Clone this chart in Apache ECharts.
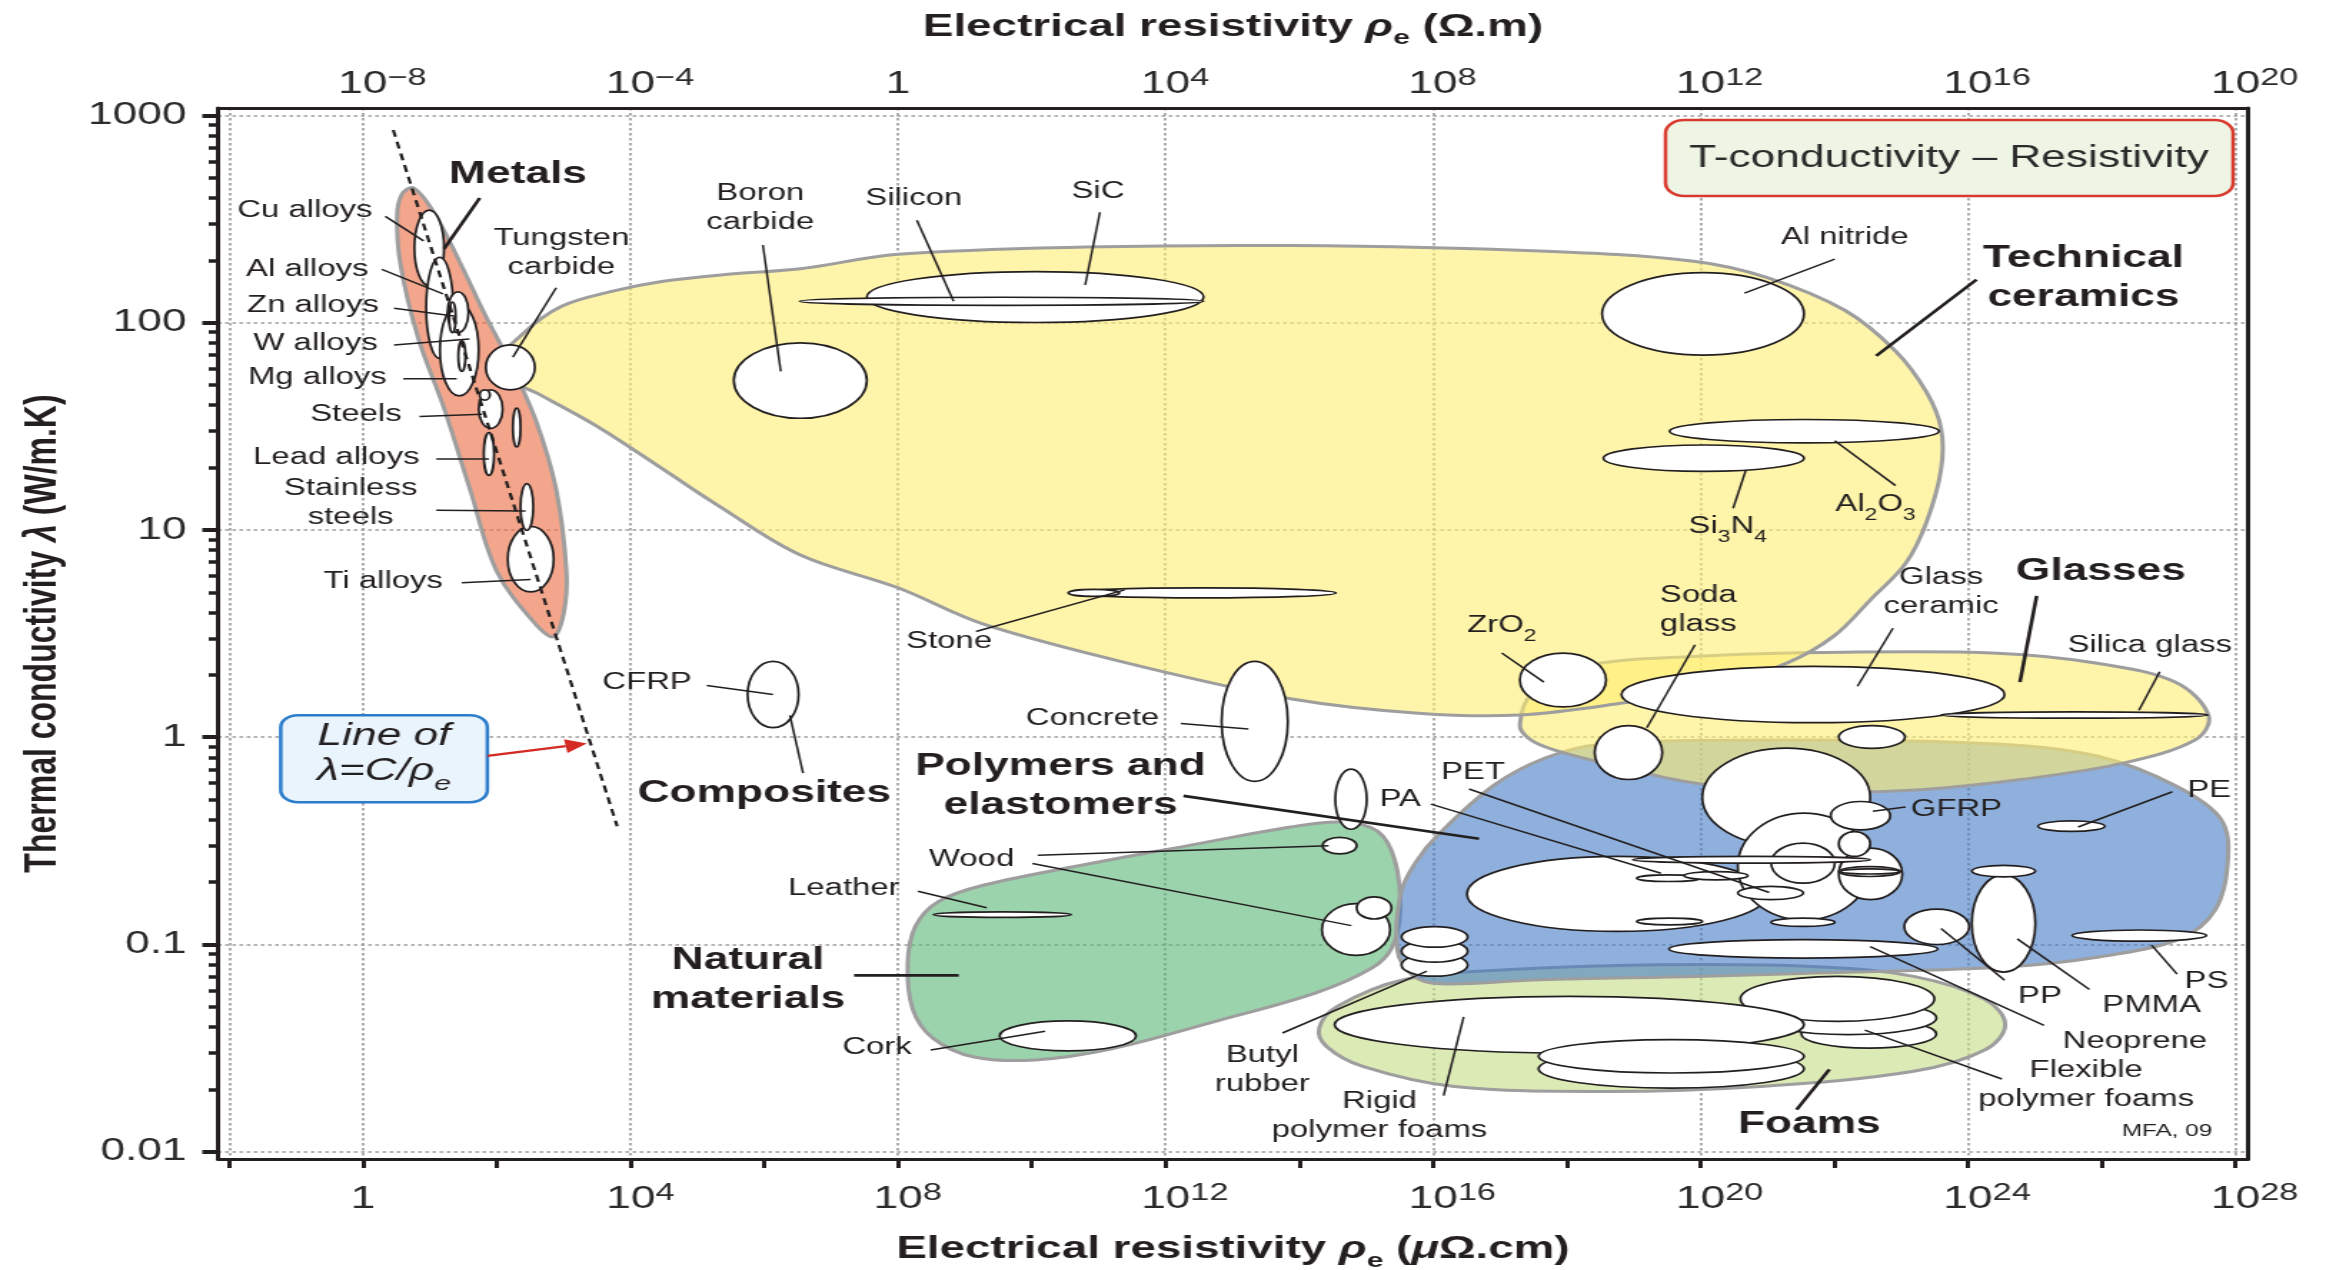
<!DOCTYPE html>
<html>
<head>
<meta charset="utf-8">
<title>Thermal conductivity vs Electrical resistivity</title>
<script src="https://cdn.jsdelivr.net/npm/echarts@6.0.0/dist/echarts.min.js"></script>
<style>
html,body{margin:0;padding:0;background:#fff;overflow:hidden;}
#wrap{width:2336px;height:1270px;overflow:hidden;background:#fff;}
#chart{width:1634px;height:1270px;transform:scaleX(1.42962);transform-origin:0 0;}
</style>
</head>
<body>
<div id="wrap"><div id="chart"></div></div>
<script>
// All values are decimal exponents: x = log10(resistivity in µΩ.cm), y = log10(thermal conductivity in W/m.K)
const X_MIN = -2.17, X_MAX = 28.19, Y_MIN = -2.035, Y_MAX = 3.036;

// ---- axis ticks ----
const xTickExp = [-2,0,2,4,6,8,10,12,14,16,18,20,22,24,26,28];
const xLabelExp = [0,4,8,12,16,20,24,28];
const xGridExp = [-2,0,4,8,12,16,20,24,28];
const topOffsetExp = 8;               // 1 Ω.m = 10^8 µΩ.cm
const yMajorExp = [-2,-1,0,1,2,3];
const yMajorText = ['0.01','0.1','1','10','100','1000'];
const yMinorValues = [0.02,0.03,0.04,0.05,0.06,0.07,0.08,0.09,
  0.2,0.3,0.4,0.5,0.6,0.7,0.8,0.9, 2,3,4,5,6,7,8,9,
  20,30,40,50,60,70,80,90, 200,300,400,500,600,700,800,900];

// ---- family envelopes (boundary points) ----
const metalsEnvelope = [[0.752,2.651],[1.057,2.533],[1.439,2.297],[1.82,2.041],[2.2,1.804],[2.583,1.529],
  [2.888,1.194],[3.041,0.8],[3.003,0.603],[2.85,0.485],[2.583,0.544],[2.0,0.8],[1.6,1.194],[1.21,1.588],
  [0.828,1.922],[0.561,2.277],[0.508,2.513],[0.58,2.62]];
const ceramicsEnvelope = [[1.95,1.77],[2.4,1.95],[2.97,2.08],[3.7,2.15],[4.49,2.2],[5.5,2.235],[6.54,2.26],
  [8.0,2.33],[10.8,2.365],[13.9,2.372],[17.6,2.346],[19.9,2.297],[21.0,2.218],[22.16,2.06],[22.92,1.863],
  [23.38,1.666],[23.6,1.49],[23.6,1.292],[23.38,1.036],[23.07,0.839],[22.54,0.662],[22.0,0.489],[21.31,0.36],
  [20.19,0.238],[18.86,0.166],[17.3,0.107],[15.78,0.116],[13.87,0.186],[11.58,0.346],[9.29,0.544],[8.0,0.721],
  [6.54,0.879],[5.3,1.12],[4.49,1.292],[3.5,1.5],[2.6,1.66]];
const glassesEnvelope = [[17.3,0.06],[17.5,0.22],[18.2,0.34],[19.9,0.39],[22.16,0.41],[24.44,0.405],[25.96,0.356],
  [27.1,0.266],[27.6,0.106],[27.4,-0.013],[26.34,-0.124],[24.82,-0.203],[23.3,-0.253],[21.78,-0.263],[20.0,-0.225],
  [18.76,-0.141],[17.81,-0.061],[17.45,-0.01]];
const polymersEnvelope = [[15.47,-1.03],[15.52,-0.75],[15.75,-0.6],[16.08,-0.47],[16.92,-0.23],[17.68,-0.1],
  [18.5,-0.035],[21.4,-0.013],[24.44,-0.033],[25.96,-0.093],[27.1,-0.233],[27.78,-0.393],[27.89,-0.593],
  [27.7,-0.833],[27.17,-0.973],[25.96,-1.06],[24.48,-1.11],[21.5,-1.14],[19.94,-1.154],[17.6,-1.17],[16.1,-1.19],[15.7,-1.15]];
const naturalEnvelope = [[8.145,-1.093],[8.259,-0.913],[8.603,-0.793],[9.289,-0.713],[10.82,-0.613],[12.34,-0.523],
  [13.87,-0.433],[14.63,-0.409],[15.17,-0.453],[15.43,-0.593],[15.51,-0.833],[15.39,-1.013],[15.09,-1.113],
  [14.25,-1.233],[12.72,-1.373],[11.2,-1.503],[10.05,-1.557],[9.137,-1.543],[8.526,-1.453],[8.221,-1.313]];
const foamsEnvelope = [[14.3,-1.403],[14.57,-1.299],[15.56,-1.17],[17.09,-1.122],[19.37,-1.098],[21.66,-1.106],
  [23.19,-1.154],[24.26,-1.266],[24.56,-1.387],[24.26,-1.508],[23.19,-1.612],[20.9,-1.685],[18.61,-1.709],
  [16.32,-1.685],[14.95,-1.588],[14.41,-1.492]];

// ---- material property ranges: [name, log ρ min, log ρ max, log λ min, log λ max] ----
const metalsEllipses = [
  ['Cu alloys',0.767,1.21,2.178,2.543], ['Al alloys',0.943,1.347,1.828,2.316],
  ['Mg alloys',1.149,1.728,1.647,2.09], ['Zn alloys',1.263,1.576,1.952,2.149],
  ['Zn alloys (b)',1.286,1.385,1.952,2.10], ['W alloys',1.424,1.53,1.765,1.913],
  ['Steels',1.729,2.087,1.49,1.676], ['Steels (b)',1.744,1.896,1.627,1.676],
  ['metal (c)',2.24,2.354,1.401,1.588], ['Lead alloys',1.805,1.958,1.263,1.47],
  ['Ti alloys',2.163,2.85,0.701,1.017], ['Stainless steels',2.354,2.545,0.998,1.224]
];
const ceramicsEllipses = [
  ['Tungsten carbide',1.835,2.568,1.676,1.893], ['Boron carbide',5.544,7.534,1.539,1.903],
  ['SiC',7.534,12.57,2.001,2.247], ['Silicon',6.527,12.57,2.084,2.123],
  ['Al nitride',18.53,21.55,1.844,2.242], ['Al2O3',19.54,23.57,1.42,1.533],
  ['Si3N4',18.55,21.55,1.283,1.41], ['Stone',10.55,14.55,0.672,0.721],
  ['Stone (b)',10.55,11.31,0.68,0.713], ['Concrete',12.84,13.83,-0.213,0.366],
  ['ZrO2',17.3,18.59,0.146,0.406]
];
const glassesEllipses = [
  ['Glass ceramic',18.82,24.55,0.07,0.342], ['Silica glass',23.6,27.59,0.092,0.122],
  ['Soda glass',18.42,19.43,-0.204,0.056], ['glass (b)',22.07,23.06,-0.054,0.056]
];
const compositesEllipses = [['CFRP',5.75,6.513,0.046,0.366]];
const naturalEllipses = [
  ['Leather',8.53,10.59,-0.869,-0.843], ['Wood (a)',14.35,14.86,-0.563,-0.483],
  ['Wood',14.34,15.36,-1.053,-0.803], ['Wood (b)',14.86,15.38,-0.877,-0.77],
  ['Cork',9.52,11.56,-1.513,-1.369]
];
const foamsEllipses = [
  ['Flexible foam (c)',21.51,23.53,-1.5,-1.363], ['Flexible foam (b)',20.9,23.53,-1.435,-1.274],
  ['Flexible polymer foams',20.6,23.5,-1.371,-1.154], ['Rigid polymer foams',14.53,21.55,-1.524,-1.25],
  ['Rigid foam (b)',17.58,21.55,-1.693,-1.507], ['Rigid foam (c)',17.58,21.55,-1.62,-1.459]
];
const polymersEllipses = [
  ['polymer 1',20.03,22.54,-0.527,-0.053], ['polymer 2',16.51,21.0,-0.937,-0.575],
  ['polymer 3',20.56,22.54,-0.881,-0.366], ['polymer 4',22.07,23.02,-0.784,-0.535],
  ['polymer 5',21.06,22.01,-0.704,-0.511], ['GFRP',21.95,22.84,-0.447,-0.31],
  ['polymer 6',22.07,22.54,-0.575,-0.455], ['PET',18.99,22.54,-0.607,-0.575],
  ['polymer 7',22.07,22.99,-0.672,-0.624], ['polymer 8',22.1,22.97,-0.66,-0.635],
  ['polymer 9',19.05,20.0,-0.696,-0.664], ['polymer 10',19.76,20.71,-0.688,-0.648],
  ['polymer 11',20.56,21.54,-0.784,-0.72], ['polymer 12',19.05,20.03,-0.905,-0.873],
  ['polymer 13',21.06,22.01,-0.913,-0.873], ['Neoprene',19.53,23.55,-1.066,-0.977],
  ['PP',23.05,24.02,-1.0,-0.829], ['PMMA',24.06,25.01,-1.133,-0.664],
  ['PMMA (b)',24.06,25.01,-0.674,-0.618], ['PE',25.05,26.05,-0.454,-0.404],
  ['PS',25.56,27.57,-0.984,-0.93], ['PA',14.54,15.01,-0.444,-0.154],
  ['Butyl rubber (c)',15.53,16.52,-1.153,-1.044], ['Butyl rubber (b)',15.53,16.52,-1.085,-0.98],
  ['Butyl rubber',15.53,16.52,-1.013,-0.914]
];

// ---- guide line λ = C/ρe ----
const guideLine = [[0.45,2.93],[3.80,-0.43]];

// ---- leader lines: [x1, y1, x2, y2] ----
const materialLeaders = [
  [0.332,2.513,0.904,2.395],[0.279,2.257,1.195,2.139],[0.462,2.07,1.385,2.031],[0.462,1.893,1.591,1.922],
  [0.6,1.73,1.4,1.73],[0.843,1.548,1.782,1.558],[1.095,1.342,1.881,1.342],[1.095,1.095,2.43,1.091],
  [1.477,0.745,2.507,0.761],[2.888,2.169,2.24,1.834],[5.979,2.375,6.246,1.765],[8.282,2.494,8.831,2.104],
  [11.02,2.533,10.80,2.182],[22.01,2.307,20.66,2.143],[20.68,1.288,20.49,1.105],[22.01,1.43,22.92,1.214],
  [9.166,0.51,11.39,0.711],[12.23,0.066,13.24,0.04],[17.03,0.406,17.66,0.266],[19.92,0.446,19.20,0.046],
  [22.88,0.526,22.35,0.246],[26.87,0.316,26.56,0.13],[5.14,0.25,6.13,0.206],[6.383,0.106,6.58,-0.173],
  [15.97,-0.323,19.41,-0.656],[16.54,-0.25,21.03,-0.749],[10.09,-0.569,14.44,-0.523],[10.01,-0.609,14.78,-0.909],
  [8.297,-0.743,9.327,-0.823],[8.488,-1.509,10.2,-1.419],[13.75,-1.427,15.91,-1.129],[16.16,-1.729,16.46,-1.349],
  [23.07,-0.337,22.58,-0.357],[27.06,-0.263,25.65,-0.433],[27.13,-1.143,26.75,-1.003],[24.55,-1.173,23.6,-0.923],
  [25.82,-1.217,24.74,-0.973],[25.14,-1.39,22.54,-1.01],[24.51,-1.649,22.46,-1.413]
];
const familyLeaders = [
  [1.744,2.602,1.21,2.356],[24.13,2.208,22.63,1.84],[25.03,0.682,24.78,0.266],
  [12.27,-0.283,16.69,-0.49],[7.343,-1.149,8.908,-1.149],[21.44,-1.797,21.93,-1.603]
];

// ---- labels: [text, x, y] ----
const metalLabels = [ // right end of text at x
  ['Cu alloys',0.141,2.543],['Al alloys',0.08,2.257],['Zn alloys',0.233,2.08],['W alloys',0.217,1.897],
  ['Mg alloys',0.355,1.735],['Steels',0.576,1.558],['Lead alloys',0.843,1.351],['Ti alloys',1.194,0.751]
];
const materialLabels = [
  ['Stainless\nsteels',-0.187,1.131],['Tungsten\ncarbide',2.965,2.336],['Boron\ncarbide',5.94,2.551],
  ['Silicon',8.236,2.598],['SiC',10.99,2.631],['Al nitride',22.16,2.411],
  ['{n|Si}{s|3}{n|N}{s|4}',20.41,0.997],['{n|Al}{s|2}{n|O}{s|3}',22.62,1.105],['Stone',8.764,0.46],
  ['{n|ZrO}{s|2}',17.03,0.52],['Soda\nglass',19.97,0.614],['Glass\nceramic',23.6,0.702],
  ['Silica glass',26.72,0.442],['CFRP',4.247,0.262],['Concrete',10.91,0.09],['PA',15.51,-0.303],
  ['PET',16.6,-0.17],['Wood',9.1,-0.59],['Leather',7.19,-0.73],['Cork',7.687,-1.499],
  ['Butyl\nrubber',13.45,-1.607],['Rigid\npolymer foams',15.2,-1.827],['GFRP',23.83,-0.349],
  ['PE',27.61,-0.257],['PS',27.57,-1.177],['PP',25.08,-1.253],['PMMA',26.75,-1.293],
  ['Neoprene',26.5,-1.469],['Flexible\npolymer foams',25.77,-1.679]
];
const familyLabels = [
  ['Metals',2.316,2.714],['Technical\nceramics',25.73,2.218],['Glasses',25.99,0.80],['Composites',6.0,-0.27],
  ['Polymers and\nelastomers',10.43,-0.237],['Natural\nmaterials',5.757,-1.17],['Foams',21.63,-1.869]
];
const creditLabel = [['MFA, 09',26.98,-1.903]];

// ---- note box "Line of λ = C/ρe" ----
const noteBox = [[-1.232,-0.3135],[1.858,0.1064]];
const noteText = [['Line of',0.313,0.006],['{i|λ=C/ρ}{e|e}',0.313,-0.183]];
const noteArrow = [[1.858,-0.09],[3.346,-0.03]];

// ================= rendering =================
const FONT = '"Liberation Sans", Arial, Helvetica, sans-serif';
const INK = '#231f20';

const envelopeLayers = [
  {pts: naturalEnvelope,  fill: 'rgba(88,182,117,0.6)'},
  {pts: foamsEnvelope,    fill: 'rgba(197,220,133,0.6)'},
  {pts: polymersEnvelope, fill: 'rgba(68,123,197,0.6)'},
  {pts: glassesEnvelope,  fill: 'rgba(255,238,113,0.6)'},
  {pts: metalsEnvelope,   fill: 'rgba(235,107,63,0.6)'},
  {pts: ceramicsEnvelope, fill: 'rgba(255,238,113,0.6)'}
];
const allEllipses = [].concat(metalsEllipses, ceramicsEllipses, glassesEllipses, compositesEllipses,
  naturalEllipses, foamsEllipses, polymersEllipses);

function tStyle(text, o) {
  const align = o.align || 'center';
  const st = {
    text: text, fill: INK, fontFamily: FONT, fontSize: o.size, fontWeight: o.weight || 'normal',
    fontStyle: o.fstyle || 'normal', lineHeight: o.lh, align: align, verticalAlign: 'middle',
    textAlign: align, textVerticalAlign: 'middle', legacy: false
  };
  if (o.rich) st.rich = o.rich;
  return st;
}
function tok(size, lh, va, extra) {
  return Object.assign({fontFamily: FONT, fontSize: size, lineHeight: lh, verticalAlign: va, fill: INK, color: INK}, extra || {});
}
const subRich = {n: tok(23, 30, 'top'), s: tok(16, 16, 'bottom')};

function envelopeItem(params, api) {
  const layer = envelopeLayers[params.dataIndex];
  return {type: 'polygon', shape: {points: layer.pts.map(p => api.coord(p)), smooth: 0.35},
    style: {fill: layer.fill, stroke: '#9e9e9e', lineWidth: 3}};
}
function ellipseItem(params, api) {
  const e = allEllipses[params.dataIndex];
  const a = api.coord([e[1], e[3]]), b = api.coord([e[2], e[4]]);
  return {type: 'ellipse', shape: {cx: (a[0] + b[0]) / 2, cy: (a[1] + b[1]) / 2,
      rx: Math.abs(b[0] - a[0]) / 2, ry: Math.abs(b[1] - a[1]) / 2},
    style: {fill: '#ffffff', stroke: INK, lineWidth: 1.7}};
}
function leaderItem(list, width) {
  return function (params, api) {
    const s = list[params.dataIndex];
    const a = api.coord([s[0], s[1]]), b = api.coord([s[2], s[3]]);
    return {type: 'line', shape: {x1: a[0], y1: a[1], x2: b[0], y2: b[1]}, style: {stroke: INK, lineWidth: width}};
  };
}
function labelItem(list, o) {
  return function (params, api) {
    const l = list[params.dataIndex];
    const p = api.coord([l[1], l[2]]);
    const opt = Object.assign({}, o);
    if (l[0].indexOf('{') >= 0 && !opt.rich) opt.rich = subRich;
    return {type: 'text', x: p[0], y: p[1], style: tStyle(l[0], opt)};
  };
}
function noteItem(params, api) {
  const a = api.coord(noteBox[0]), b = api.coord(noteBox[1]);
  const children = [{type: 'rect', shape: {x: Math.min(a[0], b[0]), y: Math.min(a[1], b[1]),
      width: Math.abs(b[0] - a[0]), height: Math.abs(b[1] - a[1]), r: 12},
    style: {fill: '#eaf4fc', stroke: '#2b7dcc', lineWidth: 2.5}}];
  const noteRich = {i: tok(31, 38, 'top', {fontStyle: 'italic'}), e: tok(21, 21, 'bottom', {fontStyle: 'italic'})};
  noteText.forEach(t => {
    const p = api.coord([t[1], t[2]]);
    children.push({type: 'text', x: p[0], y: p[1],
      style: tStyle(t[0], {size: 31, lh: 38, fstyle: 'italic', rich: t[0].indexOf('{') >= 0 ? noteRich : null})});
  });
  const s = api.coord(noteArrow[0]), e = api.coord(noteArrow[1]);
  const dx = e[0] - s[0], dy = e[1] - s[1], len = Math.sqrt(dx * dx + dy * dy);
  const ux = dx / len, uy = dy / len, L = 15, W = 7;
  const bx = e[0] - ux * L, by = e[1] - uy * L;
  children.push({type: 'line', shape: {x1: s[0], y1: s[1], x2: bx, y2: by}, style: {stroke: '#d32a22', lineWidth: 2.4}});
  children.push({type: 'polygon', shape: {points: [e, [bx - uy * W, by + ux * W], [bx + uy * W, by - ux * W]]},
    style: {fill: '#d32a22'}});
  return {type: 'group', children: children};
}

function powLabel(e) {
  if (e === 0) return '{b|1}';
  const s = e < 0 ? '\u2212' + (-e) : String(e);
  return '{' + (s.length === 1 ? 'b1' : 'b2') + '|10}{s|' + s + '}';
}
const axisRich = {
  b: tok(31, 34, 'bottom', {color: '#2b2b2b'}),
  b1: tok(31, 34, 'bottom', {color: '#2b2b2b', padding: [0, 0, 0, 13.5]}),
  b2: tok(31, 34, 'bottom', {color: '#2b2b2b', padding: [0, 0, 0, 27]}),
  s: tok(24, 22, 'top', {color: '#2b2b2b'})
};
const nameRich = {
  t: tok(32, 38, 'top', {fontWeight: 'bold', color: INK}),
  r: tok(32, 38, 'top', {fontWeight: 'bold', fontStyle: 'italic', color: INK}),
  e: tok(21, 21, 'bottom', {fontWeight: 'bold', color: INK})
};
const frameLine = {show: true, onZero: false, lineStyle: {color: INK, width: 3}};
const gridStyle = {color: '#9a9a9a', width: 1.6, type: [2.5, 2.5]};

function customSeries(data, renderItem) {
  return {type: 'custom', coordinateSystem: 'cartesian2d', xAxisIndex: 0, yAxisIndex: 0, silent: true,
    clip: false, data: data, renderItem: renderItem};
}
const firstPoint = list => list.map(l => [l[1], l[2]]);

const chart = echarts.init(document.getElementById('chart'), null, {renderer: 'canvas'});
chart.setOption({
  animation: false,
  backgroundColor: '#ffffff',
  title: {text: 'T-conductivity \u2013 Resistivity', right: 72, top: 120, padding: [22.5, 17],
    backgroundColor: '#eef5e4', borderColor: '#d83a2e', borderWidth: 2.5, borderRadius: 13,
    textStyle: {fontFamily: FONT, fontSize: 31, fontWeight: 'normal', color: '#2b2b2b', lineHeight: 31}},
  grid: {left: 152.5, right: 61.6, top: 108, bottom: 111, containLabel: false, outerBoundsMode: 'none'},
  xAxis: [
    {type: 'value', position: 'bottom', min: X_MIN, max: X_MAX, axisLine: frameLine,
      axisTick: {show: true, inside: false, length: 9, customValues: xTickExp, lineStyle: {color: INK, width: 3}},
      axisLabel: {show: true, customValues: xLabelExp, margin: 22, formatter: v => powLabel(v), rich: axisRich},
      splitLine: {show: false},
      name: '{t|Electrical resistivity }{r|\u03c1}{e|e}{t| (}{r|\u03bc}{t|\u03a9.cm)}',
      nameLocation: 'middle', nameGap: 74.5, nameTextStyle: {rich: nameRich}},
    {type: 'value', position: 'top', min: X_MIN, max: X_MAX, axisLine: frameLine,
      axisTick: {show: false, customValues: xGridExp},
      axisLabel: {show: true, customValues: xLabelExp, margin: 8, formatter: v => powLabel(v - topOffsetExp), rich: axisRich},
      splitLine: {show: true, lineStyle: gridStyle},
      name: '{t|Electrical resistivity }{r|\u03c1}{e|e}{t| (\u03a9.m)}',
      nameLocation: 'middle', nameGap: 59, nameTextStyle: {rich: nameRich}}
  ],
  yAxis: [
    {type: 'value', position: 'left', min: Y_MIN, max: Y_MAX, axisLine: frameLine,
      axisTick: {show: true, length: 11, customValues: yMajorExp, lineStyle: {color: INK, width: 4}},
      axisLabel: {show: true, customValues: yMajorExp, margin: 22, fontFamily: FONT, fontSize: 31, color: '#2b2b2b',
        formatter: v => yMajorText[yMajorExp.indexOf(Math.round(v))]},
      splitLine: {show: true, lineStyle: gridStyle},
      name: '{t|Thermal conductivity }{r|\u03bb}{t| (W/m.K)}',
      nameLocation: 'middle', nameGap: 100, nameTextStyle: {rich: nameRich}},
    {type: 'value', position: 'left', min: Y_MIN, max: Y_MAX, axisLine: {show: false, onZero: false},
      axisTick: {show: true, length: 6.5, customValues: yMinorValues.map(v => Math.log10(v)), lineStyle: {color: INK, width: 3.5}},
      axisLabel: {show: false}, splitLine: {show: false}},
    {type: 'value', position: 'right', min: Y_MIN, max: Y_MAX, axisLine: frameLine,
      axisTick: {show: false}, axisLabel: {show: false}, splitLine: {show: false}}
  ],
  series: [
    customSeries(envelopeLayers.map(l => l.pts[0]), envelopeItem),
    customSeries(allEllipses.map(e => [(e[1] + e[2]) / 2, (e[3] + e[4]) / 2]), ellipseItem),
    {type: 'line', xAxisIndex: 0, yAxisIndex: 0, data: guideLine, showSymbol: false, symbol: 'none', silent: true,
      lineStyle: {color: INK, width: 2.2, type: [7, 5]}},
    customSeries(materialLeaders.map(s => [s[0], s[1]]), leaderItem(materialLeaders, 1.5)),
    customSeries(familyLeaders.map(s => [s[0], s[1]]), leaderItem(familyLeaders, 2.6)),
    customSeries(firstPoint(metalLabels), labelItem(metalLabels, {size: 23, lh: 29, align: 'right'})),
    customSeries(firstPoint(materialLabels), labelItem(materialLabels, {size: 23, lh: 29})),
    customSeries(firstPoint(familyLabels), labelItem(familyLabels, {size: 31, lh: 39, weight: 'bold'})),
    customSeries(firstPoint(creditLabel), labelItem(creditLabel, {size: 17, lh: 20})),
    customSeries([noteBox[0]], noteItem)
  ]
});
</script>
</body>
</html>
